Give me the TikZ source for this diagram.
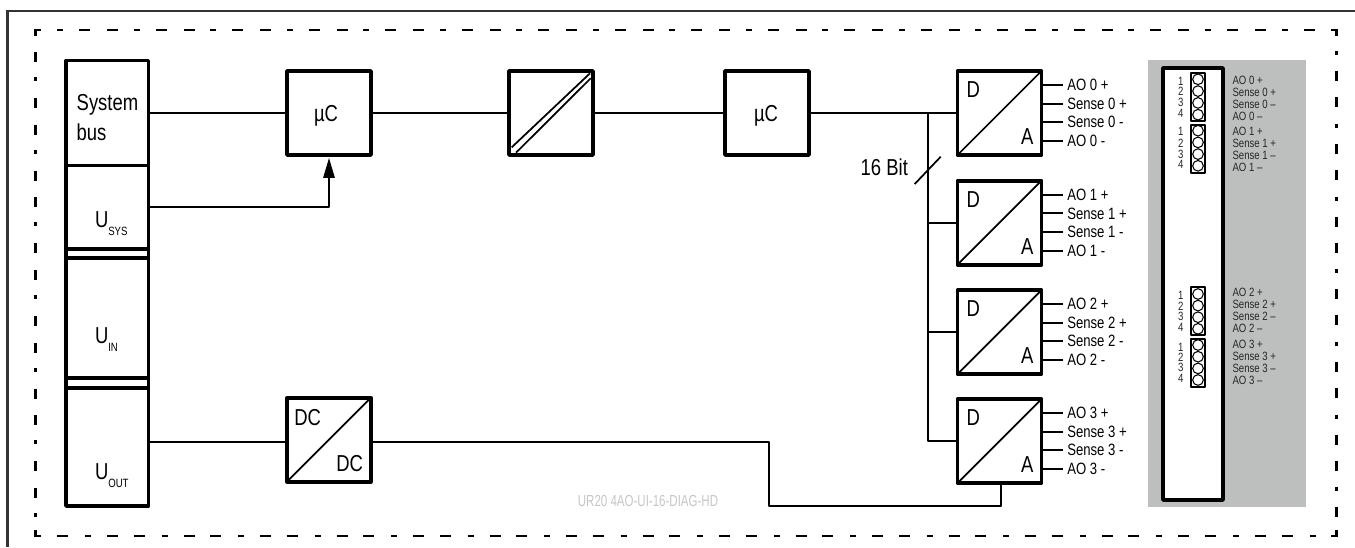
\documentclass[tikz,border=0pt]{standalone}
\usepackage{fontspec}
\setmainfont[FakeStretch=0.8]{Liberation Sans}
\newfontfamily\tagfam[FakeStretch=0.72]{Liberation Sans}
\usetikzlibrary{arrows.meta}
\newcommand{\bigf}{\fontsize{17.3pt}{23pt}\selectfont}
\newcommand{\midf}{\fontsize{12.3pt}{14pt}\selectfont}
\newcommand{\smf}{\fontsize{9pt}{10pt}\selectfont}
\newcommand{\tagf}{\tagfam\fontsize{12pt}{14pt}\selectfont}
\newcommand{\usub}[1]{U\raisebox{-6.4pt}{\smf #1}}
\definecolor{panelcol}{HTML}{BDBFBE}
\definecolor{framecol}{HTML}{333333}
\definecolor{faintcol}{HTML}{C6C6C6}
\tikzset{
  thickbox/.style={draw=black,line width=2.7pt,fill=white,inner sep=0pt,outer sep=0pt,line join=round},
  sqbox/.style={thickbox,minimum width=63pt,minimum height=63pt},
  colbox/.style={thickbox,minimum width=62pt},
  wire/.style={draw=black,line width=1.4pt,line join=round},
  diagline/.style={draw=black,line width=1.3pt},
  txtlab/.style={inner sep=0pt,outer sep=0pt,font=\bigf,anchor=base west},
  outlab/.style={inner sep=0pt,font=\midf,anchor=base west},
  tinylab/.style={inner sep=0pt,font=\smf,text=black!85,anchor=base west},
  numlab/.style={inner sep=0pt,font=\smf,text=black!85,anchor=base},
  termbox/.style={draw=black,line width=1.25pt,fill=white,inner sep=0pt,outer sep=0pt,minimum width=10.7pt,line join=round},
  pincirc/.style={circle,draw=black,line width=.8pt,fill=white,inner sep=0pt,minimum size=8pt},
  borderline/.style={draw=black,line width=2.1pt}
}
\begin{document}
\begin{tikzpicture}[x=.75pt,y=-.75pt]
\useasboundingbox (0,0) rectangle (1355,547);
% outer frame
\draw[framecol,line width=1.6pt] (7.5,547) -- (7.5,11) -- (1355,11);
% dashed enclosure
\draw[borderline] (41,30) -- (35.4,30) -- (35.4,36);
\draw[borderline] (1331,30) -- (1336.7,30) -- (1336.7,36);
\draw[borderline] (41,536) -- (35.4,536) -- (35.4,530);
\draw[borderline] (1331,536) -- (1336.7,536) -- (1336.7,530);
\draw[borderline,dash pattern=on 4.5pt off 12pt on 8.25pt off 12.75pt on 8.25pt off 11.65pt] (57,30) -- (1316,30);
\draw[borderline,dash pattern=on 8.25pt off 12.75pt on 4.5pt off 12pt on 8.25pt off 11.65pt] (57,536) -- (1316,536);
\draw[borderline,dash pattern=on 7.5pt off 11.25pt on 3pt off 12.75pt on 7.5pt off 12.5pt] (35.4,52) -- (35.4,517);
\draw[borderline,dash pattern=on 3pt off 12pt on 7.5pt off 12pt on 7.5pt off 12.5pt] (1336.7,51.3) -- (1336.7,517);
% terminal panel
\fill[panelcol] (1148,60) rectangle (1305.7,506.7);
\node[thickbox,minimum width=45pt,minimum height=324pt] (mod) at (1193,284) {};
\foreach \n/\c in {t0/97,t1/148.7,t2/311.2,t3/362.7}{
  \node[termbox,minimum height=36pt] (\n) at (1197.9,\c) {};
}
\foreach \c [count=\k] in {79.3,91.1,102.9,114.7,130.7,142.4,154.1,165.8,294,305.6,317.2,328.8,345,356.7,368.4,380}{
  \node[pincirc] (pin\k) at (1198,\c) {};
}
\foreach \t [count=\k] in {1,2,3,4,1,2,3,4,1,2,3,4,1,2,3,4}{
  \pgfmathsetmacro{\yy}{{85,95.7,106.7,117.3,135.7,147.3,158,168,299,310,320,331,351,361,371,382}[\k-1]}
  \node[numlab] (no\k) at (1180.7,\yy) {\t};
}
\foreach \i/\c in {0/80,1/131.2,2/292.8,3/344.8}{
  \pgfmathsetmacro{\ya}{\c+4}
  \pgfmathsetmacro{\yb}{\c+16}
  \pgfmathsetmacro{\yc}{\c+28}
  \pgfmathsetmacro{\yd}{\c+40}
  \node[tinylab] (ta\i) at (1232.3,\ya) {AO \i\ +};
  \node[tinylab] (tb\i) at (1232.3,\yb) {Sense \i\ +};
  \node[tinylab] (tc\i) at (1232.3,\yc) {Sense \i\ –};
  \node[tinylab] (td\i) at (1232.3,\yd) {AO \i\ –};
}
% bus column
\node[colbox,minimum height=78.75pt] (bus) at (107.3,113) {};
\node[colbox,minimum height=62.6pt] (usys) at (107.3,207.25) {};
\node[colbox,minimum height=89.8pt] (uin) at (107.3,317.85) {};
\node[colbox,minimum height=88.5pt] (uout) at (107.3,447) {};
\draw[thickbox,fill=none] (usys.south west) -- (uin.north west) (usys.south east) -- (uin.north east);
\draw[thickbox,fill=none] (uin.south west) -- (uout.north west) (uin.south east) -- (uout.north east);
\node[txtlab,align=left] (bustext) at (76.7,140.7) {System\\bus};
\node[txtlab] (tsys) at (95,227) {\usub{SYS}};
\node[txtlab] (tin) at (95,343) {\usub{IN}};
\node[txtlab] (tout) at (95,479) {\usub{OUT}};
% function blocks
\node[sqbox] (uc1) at (329,113) {};
\node[sqbox] (iso) at (551,113) {};
\node[sqbox] (uc2) at (767,113) {};
\node[sqbox] (dc) at (329,439.7) {};
\node[txtlab,anchor=base] (uc1t) at (326,121) {µC};
\node[txtlab,anchor=base] (uc2t) at (766,121) {µC};
\draw[diagline] (dc.south west) -- (dc.north east);
\node[txtlab] (dc1) at (294.3,425) {DC};
\node[txtlab,anchor=base east] (dc2) at (363,471.7) {DC};
\draw[diagline] (511.7,147.3) -- (590,73.3);
\draw[diagline] (516,152.7) -- (590.7,78.3);
% converters
\foreach \i/\c in {0/113,1/222.7,2/332,3/441}{
  \node[sqbox] (da\i) at (999.5,\c) {};
  \draw[diagline] (da\i.south west) -- (da\i.north east);
  \pgfmathsetmacro{\yD}{\c-15.3}
  \pgfmathsetmacro{\yA}{\c+31.3}
  \node[txtlab] (d\i) at (966.7,\yD) {D};
  \node[txtlab,anchor=base east] (a\i) at (1033.3,\yA) {A};
  \pgfmathsetmacro{\ya}{\c-28}
  \pgfmathsetmacro{\yb}{\c-9.3}
  \pgfmathsetmacro{\yc}{\c+9.3}
  \pgfmathsetmacro{\yd}{\c+28}
  \coordinate (sa\i) at (1062.7,\ya);
  \coordinate (sb\i) at (1062.7,\yb);
  \coordinate (sc\i) at (1062.7,\yc);
  \coordinate (sd\i) at (1062.7,\yd);
  \draw[wire] (da\i.east |- sa\i) -- (sa\i);
  \draw[wire] (da\i.east |- sb\i) -- (sb\i);
  \draw[wire] (da\i.east |- sc\i) -- (sc\i);
  \draw[wire] (da\i.east |- sd\i) -- (sd\i);
  \node[outlab] (la\i) at ([shift={(4.3,5.6)}]sa\i) {AO \i\ +};
  \node[outlab] (lb\i) at ([shift={(4.3,5.6)}]sb\i) {Sense \i\ +};
  \node[outlab] (lc\i) at ([shift={(4.3,5.6)}]sc\i) {Sense \i\ -};
  \node[outlab] (ld\i) at ([shift={(4.3,5.6)}]sd\i) {AO \i\ -};
}
% connectors
\draw[wire] (bus.east) -- (uc1.west);
\draw[wire] (uc1.east) -- (iso.west);
\draw[wire] (iso.east) -- (uc2.west);
\draw[wire] (uc2.east) -- (da0.west);
\draw[wire,-{Triangle[length=15pt,width=8.5pt]},shorten >=2.2pt] (usys.east) -| (uc1.south);
\coordinate (dcin) at (287,442);
\draw[wire] (uout.east |- dcin) -- (dc.west |- dcin);
\coordinate (j0) at (927.7,113);
\draw[wire] (j0) |- (da3.west);
\draw[wire] (j0 |- da1.west) -- (da1.west);
\draw[wire] (j0 |- da2.west) -- (da2.west);
\coordinate (bk1) at (769,442);
\coordinate (bk2) at (1001,506.3);
\draw[wire] (dc.east |- bk1) -- (bk1) |- (bk2) -- (bk2 |- da3.south);
\coordinate (sl1) at (914.7,184);
\coordinate (sl2) at (940.7,156.7);
\draw[diagline] (sl1) -- (sl2);
\node[txtlab] (bits) at (860.7,175) {16 Bit};
\node[txtlab,font=\tagf,text=faintcol,anchor=base] (tag) at (648,506.5) {UR20 4AO-UI-16-DIAG-HD};
\end{tikzpicture}
\end{document}
